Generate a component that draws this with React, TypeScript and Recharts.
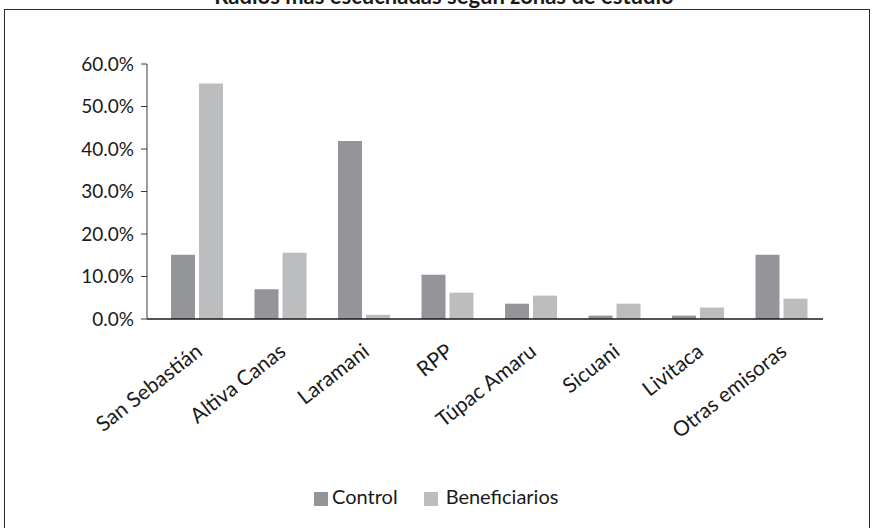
import React from "react";
import { BarChart, Bar, XAxis, YAxis, Legend } from "recharts";

const emisoras = [
  "San Sebastián",
  "Altiva Canas",
  "Laramani",
  "RPP",
  "Túpac Amaru",
  "Sicuani",
  "Livitaca",
  "Otras emisoras",
];
const control = [15.1, 7.0, 41.9, 10.4, 3.6, 0.8, 0.8, 15.1];
const beneficiarios = [55.4, 15.6, 1.0, 6.2, 5.5, 3.6, 2.7, 4.8];
const yTicks = [0, 10, 20, 30, 40, 50, 60];

const data = emisoras.map((name, i) => ({
  name,
  control: control[i],
  beneficiarios: beneficiarios[i],
}));

const font = "Lato, 'Open Sans', sans-serif";

const XTick = (props: any) => {
  const { x, y, payload } = props;
  return (
    <g transform={`translate(${x + 7},${y + 27})`}>
      <text
        x={0}
        y={0}
        textAnchor="end"
        transform="rotate(-38)"
        fill="#1a1a1a"
        fontSize={21}
        fontFamily={font}
      >
        {payload.value}
      </text>
    </g>
  );
};

const App = () => {
  return (
    <div
      style={{
        position: "absolute",
        left: 0,
        top: 0,
        width: 874,
        height: 528,
        overflow: "hidden",
        background: "#fff",
      }}
    >
      <div
        style={{
          position: "absolute",
          left: 4,
          top: 9,
          width: 864,
          height: 540,
          border: "1px solid #2a2a2a",
        }}
      />
      <div
        style={{
          position: "absolute",
          left: 7,
          top: -15,
          width: 874,
          textAlign: "center",
          fontFamily: font,
          fontWeight: "bold",
          fontSize: 22,
          lineHeight: "22px",
          color: "#1a1a1a",
          whiteSpace: "nowrap",
        }}
      >
        Radios más escuchadas según zonas de estudio
      </div>
      <div style={{ position: "absolute", left: 0, top: 0 }}>
        <BarChart
          width={874}
          height={528}
          data={data}
          margin={{ top: 64, right: 51, left: 0, bottom: 20 }}
          barGap={4}
          barSize={24}
        >
          <XAxis
            dataKey="name"
            interval={0}
            tick={<XTick />}
            tickLine={false}
            axisLine={{ stroke: "#1a1a1a", strokeWidth: 1.5 }}
            padding={{ left: 8, right: 0 }}
            height={165}
          />
          <YAxis
            width={147}
            domain={[0, 60]}
            ticks={yTicks}
            tickFormatter={(v: number) => v.toFixed(1) + "%"}
            axisLine={{ stroke: "#3a3a3a" }}
            tickLine={{ stroke: "#3a3a3a" }}
            tickSize={6}
            tickMargin={7}
            tick={{ fill: "#1a1a1a", fontSize: 19, fontFamily: font }}
          />
          <Legend
            verticalAlign="bottom"
            align="left"
            iconType="square"
            iconSize={14}
            height={24}
            itemSorter={(item: any) => (item.dataKey === "control" ? 0 : 1)}
            wrapperStyle={{ fontFamily: font, fontSize: 20, left: 314, width: 320 }}
            formatter={(v: string, entry: any) => (
              <span
                style={{
                  color: "#1a1a1a",
                  marginRight: entry.dataKey === "control" ? 16 : 0,
                  marginLeft: entry.dataKey === "control" ? 0 : 4,
                }}
              >
                {v}
              </span>
            )}
          />
          <Bar
            dataKey="control"
            name="Control"
            fill="#949599"
            isAnimationActive={false}
          />
          <Bar
            dataKey="beneficiarios"
            name="Beneficiarios"
            fill="#bcbdbf"
            isAnimationActive={false}
          />
        </BarChart>
      </div>
    </div>
  );
};

export default App;
